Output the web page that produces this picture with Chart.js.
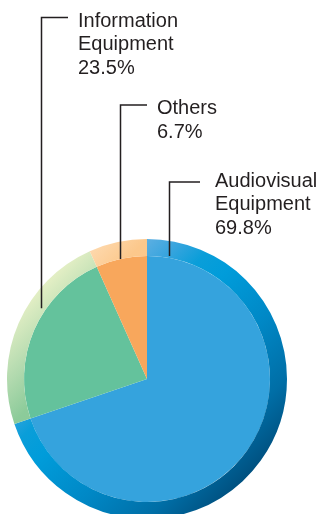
<!DOCTYPE html>
<html>
<head>
<meta charset="utf-8">
<script src="https://cdn.jsdelivr.net/npm/chart.js@4"></script>
<style>
  html, body { margin: 0; padding: 0; background: #fff; overflow: hidden; }
  #wrap { position: relative; width: 321px; height: 530px; }
</style>
</head>
<body>
<div id="wrap"><canvas id="c" width="321" height="530"></canvas></div>
<script>
// Sales breakdown by product segment (%)
const categories = ['Audiovisual Equipment', 'Information Equipment', 'Others'];
const shares = [69.8, 23.5, 6.7];
const nameLines = [['Audiovisual', 'Equipment'], ['Information', 'Equipment'], ['Others']];

// Flat face colours
const faceColors = ['#35a3dd', '#64c29c', '#f8a75c'];
// Rim shading stops (light at upper left, dark at lower right)
const rimStops = [
  [[0.0, '#9ad4f0'], [0.25, '#5cafe2'], [0.31, '#3aa5de'], [0.38, '#0a9ed9'], [0.45, '#009cda'], [0.6, '#0088c6'], [0.75, '#006ea6'], [0.86, '#004f7e'], [1.0, '#00466f']],
  [[0.0, '#eef3d0'], [0.15, '#e2eec4'], [0.25, '#b5dbb0'], [0.34, '#8ccb9a'], [1.0, '#7cc494']],
  [[0.0, '#fee2bb'], [0.16, '#fedab0'], [0.25, '#fcc88c'], [1.0, '#fbbd7a']]
];

function rimColor(ctx) {
  const area = ctx.chart.chartArea;
  if (!area) return faceColors[ctx.dataIndex];
  const g = ctx.chart.ctx.createLinearGradient(area.left, area.top, area.right, area.bottom);
  rimStops[ctx.dataIndex].forEach(([t, c]) => g.addColorStop(t, c));
  return g;
}

// Callout layout: text anchor, leader line x, horizontal arm end
const callouts = [
  { idx: 1, textX: 78, firstBase: 26.5, lineX: 41.5, armY: 17.5, armEnd: 68, depth: 4 },
  { idx: 2, textX: 157, firstBase: 114, lineX: 120.5, armY: 105, armEnd: 147, depth: 0 },
  { idx: 0, textX: 215, firstBase: 186.5, lineX: 169.5, armY: 182, armEnd: 200, depth: 2 }
];

const calloutPlugin = {
  id: 'callouts',
  afterDraw(chart) {
    const ctx = chart.ctx;
    const face = chart.getDatasetMeta(1).data[0];
    const cx = face.x, cy = face.y, rFace = face.outerRadius;
    ctx.save();
    ctx.strokeStyle = '#231f20';
    ctx.lineWidth = 1.5;
    ctx.fillStyle = '#231f20';
    ctx.font = '20px "Liberation Sans", Arial, sans-serif';
    ctx.textBaseline = 'alphabetic';
    ctx.textAlign = 'left';
    callouts.forEach(c => {
      const r = rFace + c.depth;
      const dx = c.lineX - cx;
      const endY = cy - Math.sqrt(r * r - dx * dx);
      ctx.beginPath();
      ctx.moveTo(c.armEnd, c.armY);
      ctx.lineTo(c.lineX, c.armY);
      ctx.lineTo(c.lineX, endY);
      ctx.stroke();
      const lines = nameLines[c.idx].concat([shares[c.idx].toFixed(1) + '%']);
      lines.forEach((t, i) => ctx.fillText(t, c.textX, c.firstBase + i * 23.8));
    });
    ctx.restore();
  }
};

new Chart(document.getElementById('c'), {
  type: 'pie',
  data: {
    labels: categories,
    datasets: [
      { data: shares, weight: 17, backgroundColor: rimColor, borderWidth: 0 },
      { data: shares, weight: 123, backgroundColor: faceColors, borderWidth: 0 }
    ]
  },
  options: {
    responsive: false,
    animation: false,
    events: [],
    radius: 140,
    layout: { padding: { left: 7, top: 239, right: 34, bottom: 11 } },
    elements: { arc: { borderWidth: 0, offset: 0, hoverOffset: 0 } },
    plugins: { legend: { display: false }, tooltip: { enabled: false } }
  },
  plugins: [calloutPlugin]
});
</script>
</body>
</html>
